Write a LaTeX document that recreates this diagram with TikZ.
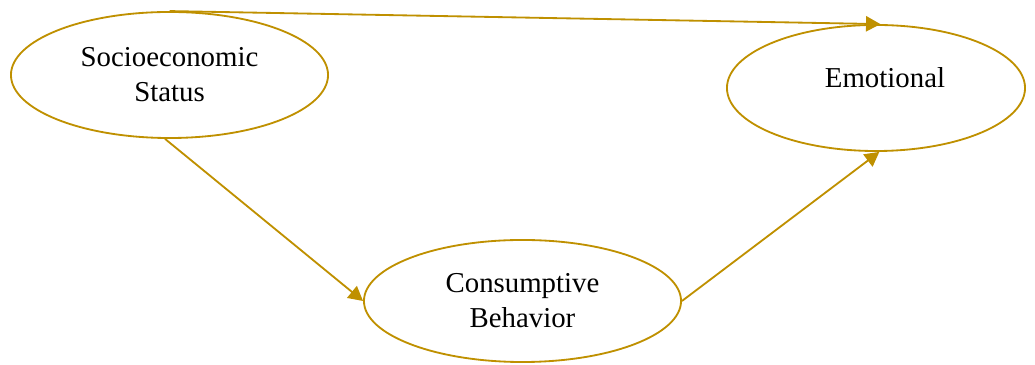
\documentclass[tikz,border=0pt]{standalone}
\usepackage{fontspec}
\setmainfont{Liberation Serif}
\usetikzlibrary{shapes.geometric,arrows.meta}
\definecolor{gold}{HTML}{BF9000}
\tikzset{
	var/.style={draw=gold,line width=1.3pt,ellipse,inner sep=0pt,align=center,
		font=\fontsize{20.5}{25}\selectfont},
	path/.style={draw=gold,line width=1.3pt,-{Triangle[length=0.36cm,width=0.38cm]}}
}
\begin{document}
\begin{tikzpicture}[x=0.025cm,y=-0.025cm]
	\useasboundingbox (0,0) rectangle (1035,365);
	%
	%VARIABLES
	\node[var,minimum width=7.925cm,minimum height=3.15cm] (ses) at (169.5,75) {Socioeconomic\\Status};
	\node[var,minimum width=7.45cm,minimum height=3.15cm] (emo) at (876,88) {};
	\node[font=\fontsize{20.5}{25}\selectfont] (emolbl) at (885,78) {Emotional};
	\node[var,minimum width=7.925cm,minimum height=3.05cm] (cb) at (522.5,301) {Consumptive\\Behavior};
	%
	%PATHS
	\draw[path] (ses.north) -- (emo.86);
	\draw[path] (ses.266) -- (cb.west);
	\draw[path] (cb.east) -- (emo.273);
\end{tikzpicture}
\end{document}
